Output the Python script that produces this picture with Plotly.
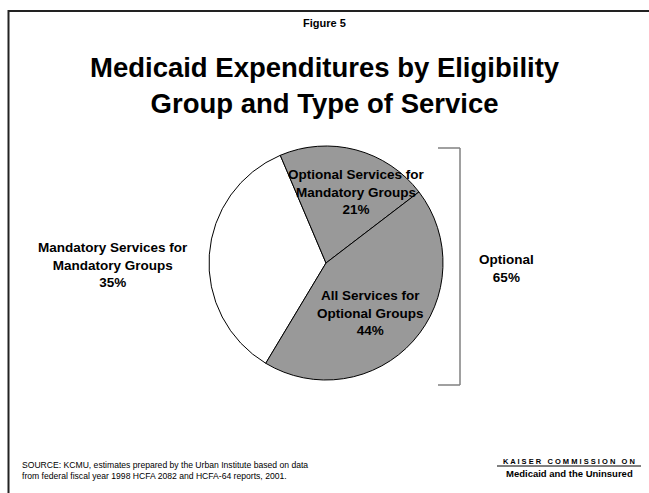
import plotly.graph_objects as go

# Slice data (share of Medicaid expenditures, %)
categories = [
    "Mandatory Services for<br>Mandatory Groups",
    "Optional Services for<br>Mandatory Groups",
    "All Services for<br>Optional Groups",
]
values = [35, 21, 44]
colors = ["#ffffff", "#999999", "#999999"]
optional_groups = [1, 2]  # slices bracketed as "Optional"

W, H = 649, 493
FONT = "Liberation Sans, Arial, sans-serif"


def px(x):
    return x / W


def py(y):
    return 1 - y / H


fig = go.Figure()

cx, cy, r = 326, 263, 117
fig.add_trace(go.Pie(
    labels=[c.replace("<br>", " ") for c in categories],
    values=values,
    sort=False,
    direction="clockwise",
    rotation=211,
    marker=dict(colors=colors, line=dict(color="#000000", width=1)),
    textinfo="none",
    hoverinfo="skip",
    showlegend=False,
    domain=dict(x=[px(cx - r), px(cx + r)], y=[py(cy + r), py(cy - r)]),
))

annotations = []


def add_text(text, x, y, size, bold=True, xanchor="center", align="center", color="#000000"):
    annotations.append(dict(
        text=f"<b>{text}</b>" if bold else text,
        x=px(x), y=py(y), xref="paper", yref="paper",
        xanchor=xanchor, yanchor="middle", align=align, showarrow=False,
        font=dict(family=FONT, size=size, color=color),
    ))


add_text("Figure 5", 324, 23, 11)
add_text("Medicaid Expenditures by Eligibility<br>Group and Type of Service", 325, 85, 27.5)

label_pos = [(113, 265), (356, 192), (370, 313)]
for cat, v, (lx, ly) in zip(categories, values, label_pos):
    add_text(f"{cat}<br>{v}%", lx, ly, 13.5)

optional_total = sum(values[i] for i in optional_groups)
add_text(f"Optional<br>{optional_total}%", 506, 268, 13.5)

add_text("SOURCE: KCMU, estimates prepared by the Urban Institute based on data<br>"
         "from federal fiscal year 1998 HCFA 2082 and HCFA-64 reports, 2001.",
         20, 470, 8.6, bold=False, xanchor="left", align="left")

add_text("K A I S E R   C O M M I S S I O N   O N", 569, 461, 7.5)
add_text("Medicaid and the Uninsured", 569, 473, 9.5)

shapes = [
    # frame
    dict(type="line", x0=px(8), x1=px(649), y0=py(11), y1=py(11), xref="paper", yref="paper",
         line=dict(color="#222222", width=2)),
    dict(type="line", x0=px(8.5), x1=px(8.5), y0=py(10), y1=py(493), xref="paper", yref="paper",
         line=dict(color="#222222", width=2)),
    # bracket around the optional slices
    dict(type="line", x0=px(438), x1=px(460), y0=py(148), y1=py(148), xref="paper", yref="paper",
         line=dict(color="#808080", width=1.5)),
    dict(type="line", x0=px(460), x1=px(460), y0=py(148), y1=py(385), xref="paper", yref="paper",
         line=dict(color="#808080", width=1.5)),
    dict(type="line", x0=px(438), x1=px(460), y0=py(385), y1=py(385), xref="paper", yref="paper",
         line=dict(color="#808080", width=1.5)),
    # logo underline
    dict(type="line", x0=px(497), x1=px(641), y0=py(466), y1=py(466), xref="paper", yref="paper",
         line=dict(color="#000000", width=1)),
]

fig.update_layout(
    width=W, height=H,
    margin=dict(l=0, r=0, t=0, b=0),
    paper_bgcolor="#ffffff",
    plot_bgcolor="#ffffff",
    annotations=annotations,
    shapes=shapes,
)

fig.write_html("out.html")
